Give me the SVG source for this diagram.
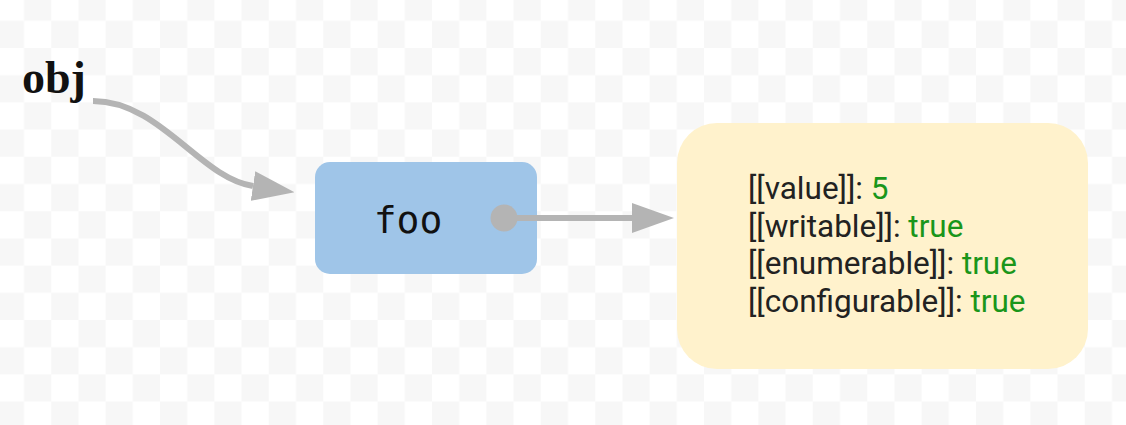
<svg xmlns="http://www.w3.org/2000/svg" width="1126" height="425" viewBox="0 0 1126 425">
  <defs>
    <pattern id="checker" x="-3.2" y="-6.4" width="54.4" height="54.4" patternUnits="userSpaceOnUse">
      <rect width="54.4" height="54.4" fill="#ffffff"/>
      <rect x="27.2" y="0" width="27.2" height="27.2" fill="#f7f7f7"/>
      <rect x="0" y="27.2" width="27.2" height="27.2" fill="#f7f7f7"/>
    </pattern>
    <marker id="arrow" viewBox="0 0 42 30" refX="0" refY="15" markerWidth="42" markerHeight="30" markerUnits="userSpaceOnUse" orient="auto">
      <path d="M0,0 L42,15 L0,30 Z" fill="#b4b4b4"/>
    </marker>
    <style>
      .edge { fill: none; stroke: #b4b4b4; stroke-width: 6; }
      .key { font-family: Roboto, "Liberation Sans", sans-serif; font-size: 31.5px; fill: #222222; }
      .val { fill: #1a961a; }
    </style>
  </defs>
  <rect width="1126" height="425" fill="url(#checker)"/>

  <g id="obj">
    <text x="22" y="93" font-family="'Liberation Serif', serif" font-weight="bold" font-size="46" fill="#111111">obj</text>
  </g>

  <g id="foo">
    <rect x="315" y="162" width="222" height="112" rx="15" fill="#9fc5e8"/>
    <text x="408" y="233" text-anchor="middle" font-family="'DejaVu Sans Mono', monospace" font-size="38" fill="#111111">foo</text>
  </g>

  <g id="descriptor">
    <rect x="677" y="123" width="411" height="246" rx="40" fill="#fff2cc"/>
    <text class="key" x="748" y="199">[[value]]: <tspan class="val">5</tspan></text>
    <text class="key" x="748" y="236.5">[[writable]]: <tspan class="val">true</tspan></text>
    <text class="key" x="748" y="274">[[enumerable]]: <tspan class="val">true</tspan></text>
    <text class="key" x="748" y="311.5">[[configurable]]: <tspan class="val">true</tspan></text>
  </g>

  <g id="connectors">
    <path class="edge" d="M93,101 C160,101 200,178 253,186" marker-end="url(#arrow)"/>
    <circle cx="504" cy="218" r="13.5" fill="#b4b4b4"/>
    <path class="edge" d="M504,218 L632,218" marker-end="url(#arrow)"/>
  </g>
</svg>
